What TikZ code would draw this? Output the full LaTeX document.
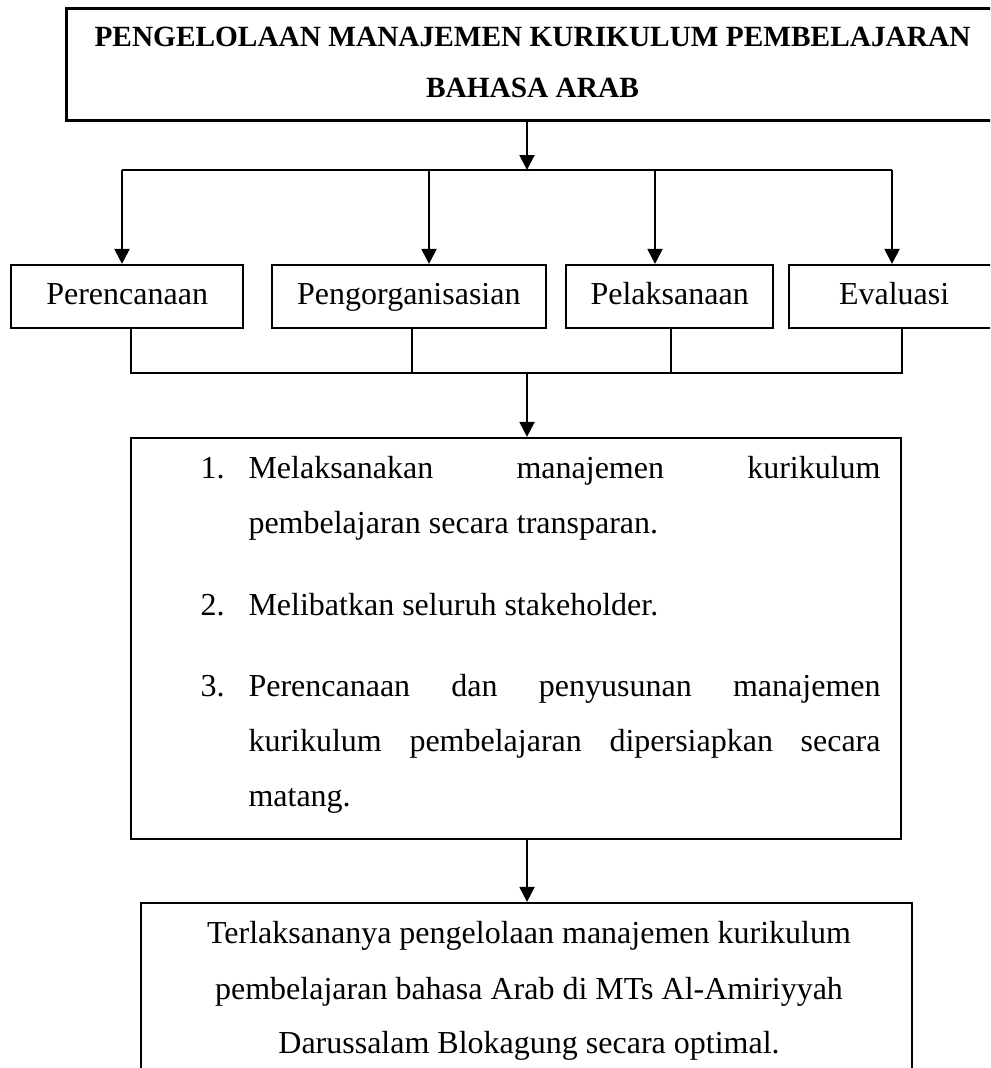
\documentclass[tikz,border=0pt]{standalone}
\usepackage{fontspec}
\setmainfont{Liberation Serif}
\usetikzlibrary{arrows.meta}
\tikzset{
  boxline/.style={draw=black, line width=0.8pt, inner sep=0pt},
  smallbox/.style={boxline, minimum height=23.75pt, text height=8.5pt, text depth=2.24pt, font=\fontsize{12}{14}\selectfont},
  conn/.style={line width=0.8pt},
  arr/.style={line width=0.8pt, -{Triangle[length=5.6pt,width=5.6pt]}},
  txt/.style={inner sep=0pt, font=\fontsize{12}{14}\selectfont},
  ttl/.style={inner sep=0pt, font=\fontsize{11}{13}\selectfont\bfseries}
}
\begin{document}
\begin{tikzpicture}[x=0.375pt, y=-0.375pt]
\useasboundingbox (0,0) rectangle (990,1068);
\clip (0,0) rectangle (990,1068);
% boxes
\node[boxline, line width=1pt, minimum width=348.9pt, minimum height=42.15pt] (top) at (531.85,64.5) {};
\node[smallbox, minimum width=87.1pt] (b1) at (127.15,296.65) {Perencanaan};
\node[smallbox, minimum width=102.9pt] (b2) at (408.85,296.65) {Pengorganisasian};
\node[smallbox, minimum width=77.7pt] (b3) at (669.65,296.65) {Pelaksanaan};
\node[smallbox, minimum width=78.6pt] (b4) at (894.15,296.65) {Evaluasi};
\node[boxline, minimum width=288.75pt, minimum height=150.4pt] (mid) at (516,638.5) {};
\node[boxline, minimum width=289.1pt, minimum height=66.4pt] (bot) at (526.5,991.5) {};
% title text
\node[ttl, anchor=base] (t1) at (532.5,46.7) {PENGELOLAAN MANAJEMEN KURIKULUM PEMBELAJARAN};
\node[ttl, anchor=base] (t2) at (532.5,97.3) {BAHASA ARAB};
% list text
\node[txt, anchor=base west] (n1) at (200,478.3) {1.};
\node[txt, anchor=base west] (l1) at (248,478.3) {\hbox to 237pt{Melaksanakan\hfill manajemen\hfill kurikulum}};
\node[txt, anchor=base west] (l2) at (248,533.3) {pembelajaran secara transparan.};
\node[txt, anchor=base west] (n2) at (200,615) {2.};
\node[txt, anchor=base west] (l3) at (248,615) {Melibatkan seluruh stakeholder.};
\node[txt, anchor=base west] (n3) at (200,696.7) {3.};
\node[txt, anchor=base west] (l4) at (248,696.7) {\hbox to 237pt{Perencanaan\hfill dan\hfill penyusunan\hfill manajemen}};
\node[txt, anchor=base west] (l5) at (248,751.7) {\hbox to 237pt{kurikulum\hfill pembelajaran\hfill dipersiapkan\hfill secara}};
\node[txt, anchor=base west] (l6) at (248,806.7) {matang.};
% bottom text
\node[txt, anchor=base] (r1) at (529,943.5) {Terlaksananya pengelolaan manajemen kurikulum};
\node[txt, anchor=base] (r2) at (529,999) {pembelajaran bahasa Arab di MTs Al-Amiriyyah};
\node[txt, anchor=base] (r3) at (529,1053.5) {Darussalam Blokagung secara optimal.};
% upper bus
\coordinate (j1) at (527,170);
\coordinate (bus1) at (122,170);
\coordinate (bus2) at (429,170);
\coordinate (bus3) at (655,170);
\coordinate (bus4) at (892,170);
\draw[arr] (top.south -| j1) -- (j1);
\draw[conn] (bus1) -- (bus4);
\draw[arr] (bus1) -- (bus1 |- b1.north);
\draw[arr] (bus2) -- (bus2 |- b2.north);
\draw[arr] (bus3) -- (bus3 |- b3.north);
\draw[arr] (bus4) -- (bus4 |- b4.north);
% lower bus
\coordinate (c1) at (131,373.3);
\coordinate (c2) at (412.3,373.3);
\coordinate (c3) at (671,373.3);
\coordinate (c4) at (901.7,373.3);
\coordinate (j2) at (527,373.3);
\draw[conn] (c1 |- b1.south) -- (c1) -- (c4) -- (c4 |- b4.south);
\draw[conn] (c2 |- b2.south) -- (c2);
\draw[conn] (c3 |- b3.south) -- (c3);
\draw[arr] (j2) -- (j2 |- mid.north);
\coordinate (j3) at (527,839);
\draw[arr] (mid.south -| j3) -- (j3 |- bot.north);
\end{tikzpicture}
\end{document}
